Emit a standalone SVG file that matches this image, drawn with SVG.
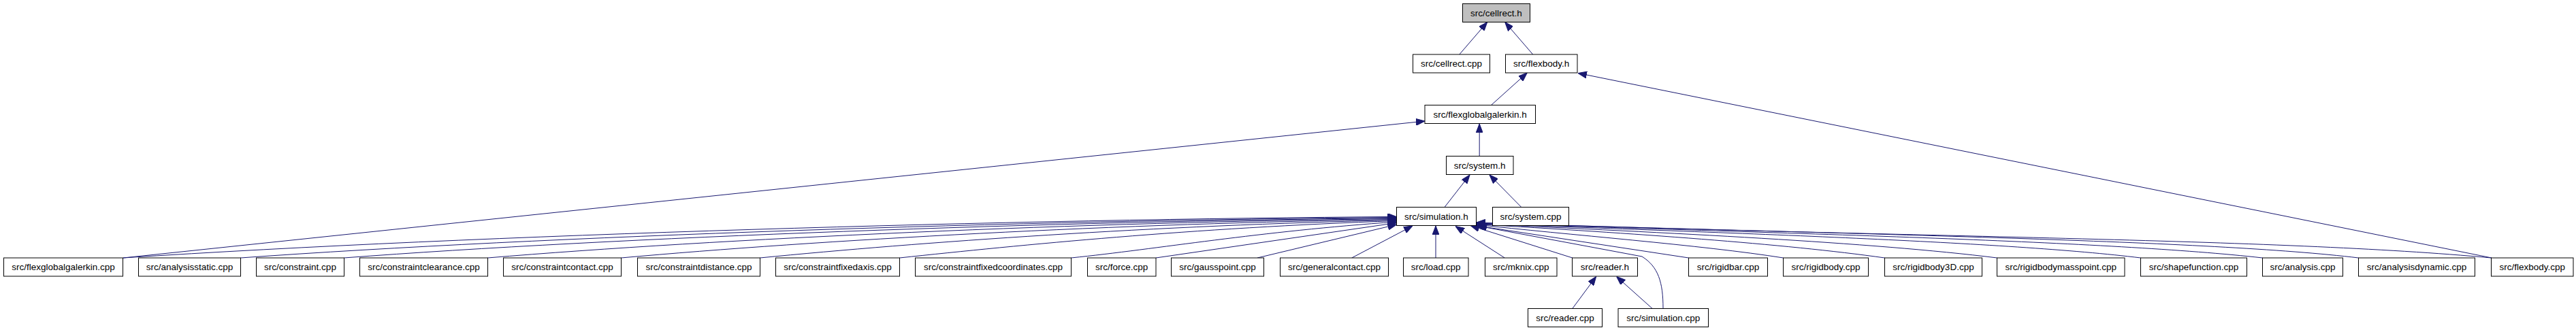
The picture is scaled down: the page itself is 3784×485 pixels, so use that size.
<svg xmlns="http://www.w3.org/2000/svg" width="3784" height="485" viewBox="0 0 3784 485">
<style>
.n rect{fill:#ffffff;stroke:#000000;stroke-width:1}
.n text{font-family:"Liberation Sans",Arial,Helvetica,sans-serif;font-size:13.5px;fill:#000000;text-anchor:middle}
.e path{fill:none;stroke:#191970;stroke-width:1;marker-end:url(#arr)}
</style>
<defs>
<marker id="arr" markerUnits="userSpaceOnUse" viewBox="0 0 13 10" refX="13" refY="5" markerWidth="13" markerHeight="10" orient="auto">
<path d="M0,0 L13,5 L0,10 z" fill="#191970" stroke="#191970" stroke-width="1"/>
</marker>
</defs>
<rect width="3784" height="485" fill="#ffffff"/>
<g id="edges" class="e">
<path d="M2143.8,80 L2184.7,32.5"/>
<path d="M2251.7,80 L2210.7,32.5"/>
<path d="M2190.5,154.5 L2243.3,107"/>
<path d="M3660,379 L2318,107.5"/>
<path d="M181,379 L2093,178"/>
<path d="M2173.2,229.5 L2173.2,182"/>
<path d="M2122,304.5 L2159,257"/>
<path d="M2234.8,304.5 L2188,257"/>
<path d="M181,379 C700,345 1500,322 2051.5,318.5"/>
<path d="M353.5,379 C800,347 1500,324 2051.5,319.5"/>
<path d="M505.5,379 C900,349 1550,325 2051.5,320.5"/>
<path d="M716.5,379 C1050,351 1600,326 2051.5,321.5"/>
<path d="M912.5,379 C1200,353 1650,328 2051.5,322.5"/>
<path d="M1116.5,379 C1350,356 1700,331 2051.5,323.5"/>
<path d="M1321.5,379 C1500,360 1750,335 2051.5,324.5"/>
<path d="M1573.5,379 C1700,366 1850,340 2051.5,326"/>
<path d="M1698,379 L2051.5,327.5"/>
<path d="M1847,379 L2051.5,330"/>
<path d="M1985.7,379 L2075,332"/>
<path d="M2109,379 L2109,332"/>
<path d="M2210.3,379 L2138,332.5"/>
<path d="M2309.8,379 L2160.3,331.7"/>
<path d="M2443,453.5 C2443,415 2436,392 2412,377 L2171,332"/>
<path d="M2480.5,379 L2168,331.5"/>
<path d="M2619.5,379 C2500,360 2300,345 2168.5,330"/>
<path d="M2768.5,379 C2620,358 2400,343 2168.5,329.5"/>
<path d="M2933.5,379 C2750,356 2450,342 2168.5,329"/>
<path d="M3144.5,379 C2950,355 2550,343 2168.5,328.5"/>
<path d="M3323.5,379 C3100,354 2650,344 2168.5,328"/>
<path d="M3464.5,379 C3250,353 2750,345 2168.5,327.5"/>
<path d="M3659.5,379 C3350,350 2800,349 2168.5,327"/>
<path d="M2309.8,453.5 L2344.6,406.5"/>
<path d="M2427.2,453.5 L2374.6,406.5"/>
</g>
<g id="n_cellrect_h" class="n"><rect x="2148.5" y="5.5" width="99" height="27" style="fill:#bfbfbf"/><text x="2198" y="23.5">src/cellrect.h</text></g>
<g id="n_cellrect_cpp" class="n"><rect x="2075.5" y="80" width="113" height="27"/><text x="2132" y="98">src/cellrect.cpp</text></g>
<g id="n_flexbody_h" class="n"><rect x="2211.5" y="80" width="105.5" height="27"/><text x="2264.2" y="98">src/flexbody.h</text></g>
<g id="n_flexglobalgalerkin_h" class="n"><rect x="2093" y="154.5" width="162.5" height="27"/><text x="2174.2" y="172.5">src/flexglobalgalerkin.h</text></g>
<g id="n_system_h" class="n"><rect x="2124.5" y="229.5" width="98.5" height="27"/><text x="2173.7" y="247.5">src/system.h</text></g>
<g id="n_simulation_h" class="n"><rect x="2051.5" y="304.5" width="117" height="27"/><text x="2110" y="322.5">src/simulation.h</text></g>
<g id="n_system_cpp" class="n"><rect x="2192.5" y="304.5" width="112" height="27"/><text x="2248.5" y="322.5">src/system.cpp</text></g>
<g id="n_flexglobalgalerkin_cpp" class="n"><rect x="5.5" y="379" width="175" height="27"/><text x="93" y="397">src/flexglobalgalerkin.cpp</text></g>
<g id="n_analysisstatic_cpp" class="n"><rect x="203.5" y="379" width="150" height="27"/><text x="278.5" y="397">src/analysisstatic.cpp</text></g>
<g id="n_constraint_cpp" class="n"><rect x="376.5" y="379" width="129" height="27"/><text x="441" y="397">src/constraint.cpp</text></g>
<g id="n_constraintclearance_cpp" class="n"><rect x="528.5" y="379" width="188" height="27"/><text x="622.5" y="397">src/constraintclearance.cpp</text></g>
<g id="n_constraintcontact_cpp" class="n"><rect x="739.5" y="379" width="173" height="27"/><text x="826" y="397">src/constraintcontact.cpp</text></g>
<g id="n_constraintdistance_cpp" class="n"><rect x="936.5" y="379" width="180" height="27"/><text x="1026.5" y="397">src/constraintdistance.cpp</text></g>
<g id="n_constraintfixedaxis_cpp" class="n"><rect x="1139.5" y="379" width="182" height="27"/><text x="1230.5" y="397">src/constraintfixedaxis.cpp</text></g>
<g id="n_constraintfixedcoordinates_cpp" class="n"><rect x="1344.5" y="379" width="229" height="27"/><text x="1459" y="397">src/constraintfixedcoordinates.cpp</text></g>
<g id="n_force_cpp" class="n"><rect x="1597.5" y="379" width="100.5" height="27"/><text x="1647.7" y="397">src/force.cpp</text></g>
<g id="n_gausspoint_cpp" class="n"><rect x="1720.5" y="379" width="136" height="27"/><text x="1788.5" y="397">src/gausspoint.cpp</text></g>
<g id="n_generalcontact_cpp" class="n"><rect x="1880.5" y="379" width="159" height="27"/><text x="1960" y="397">src/generalcontact.cpp</text></g>
<g id="n_load_cpp" class="n"><rect x="2061.5" y="379" width="95.5" height="27"/><text x="2109.2" y="397">src/load.cpp</text></g>
<g id="n_mknix_cpp" class="n"><rect x="2181.5" y="379" width="105.5" height="27"/><text x="2234.2" y="397">src/mknix.cpp</text></g>
<g id="n_reader_h" class="n"><rect x="2309.5" y="379" width="96" height="27"/><text x="2357.5" y="397">src/reader.h</text></g>
<g id="n_rigidbar_cpp" class="n"><rect x="2480.5" y="379" width="116" height="27"/><text x="2538.5" y="397">src/rigidbar.cpp</text></g>
<g id="n_rigidbody_cpp" class="n"><rect x="2619.5" y="379" width="125" height="27"/><text x="2682" y="397">src/rigidbody.cpp</text></g>
<g id="n_rigidbody3D_cpp" class="n"><rect x="2768.5" y="379" width="143" height="27"/><text x="2840" y="397">src/rigidbody3D.cpp</text></g>
<g id="n_rigidbodymasspoint_cpp" class="n"><rect x="2933.5" y="379" width="187.5" height="27"/><text x="3027.2" y="397">src/rigidbodymasspoint.cpp</text></g>
<g id="n_shapefunction_cpp" class="n"><rect x="3144.5" y="379" width="156" height="27"/><text x="3222.5" y="397">src/shapefunction.cpp</text></g>
<g id="n_analysis_cpp" class="n"><rect x="3323.5" y="379" width="118" height="27"/><text x="3382.5" y="397">src/analysis.cpp</text></g>
<g id="n_analysisdynamic_cpp" class="n"><rect x="3464.5" y="379" width="171" height="27"/><text x="3550" y="397">src/analysisdynamic.cpp</text></g>
<g id="n_flexbody_cpp" class="n"><rect x="3659.5" y="379" width="120.5" height="27"/><text x="3719.7" y="397">src/flexbody.cpp</text></g>
<g id="n_reader_cpp" class="n"><rect x="2244.5" y="453.5" width="109" height="27"/><text x="2299" y="471.5">src/reader.cpp</text></g>
<g id="n_simulation_cpp" class="n"><rect x="2377" y="453.5" width="132.5" height="27"/><text x="2443.2" y="471.5">src/simulation.cpp</text></g>
</svg>
